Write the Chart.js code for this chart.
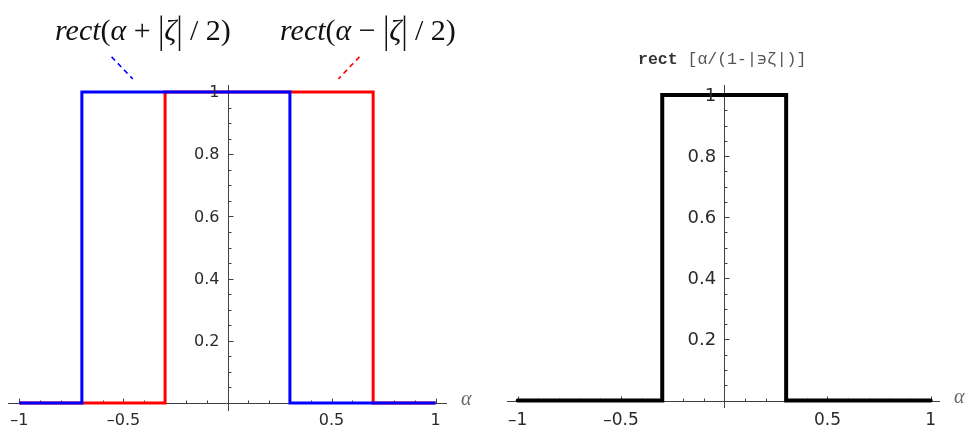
<!DOCTYPE html>
<html>
<head>
<meta charset="utf-8">
<script src="https://cdn.jsdelivr.net/npm/chart.js@4/dist/chart.umd.min.js"></script>
<style>
  html, body { margin: 0; padding: 0; background: #fff; }
  #wrap { position: relative; width: 966px; height: 428px; overflow: hidden; background: #fff; }
  canvas { position: absolute; top: 0; }
  #cLeft { left: 0; }
  #cRight { left: 483px; }
  .eq { position: absolute; font-family: "Liberation Serif", serif; font-size: 30px; color: #111; white-space: nowrap; line-height: 1; }
  .eq i { font-style: italic; }
  .eq .bar { display: inline-block; transform: scaleY(1.3); }
  .ttl { position: absolute; font-family: "Liberation Mono", monospace; font-size: 16.5px; color: #555; white-space: nowrap; line-height: 1; }
  .ttl b { color: #333; }
</style>
</head>
<body>
<div id="wrap">
  <canvas id="cLeft" width="483" height="428"></canvas>
  <canvas id="cRight" width="483" height="428"></canvas>
  <div class="eq" style="left:55px; top:15px;"><i>rect</i>(<i>α</i> + <span class="bar">|</span><i>ζ</i><span class="bar">|</span> / 2)</div>
  <div class="eq" style="left:280px; top:15px;"><i>rect</i>(<i>α</i> − <span class="bar">|</span><i>ζ</i><span class="bar">|</span> / 2)</div>
  <div class="ttl" style="left:638px; top:52px;"><b>rect</b> [α/(1-|϶ζ|)]</div>
</div>
<script>
// Shifted rectangle functions (left panel)
const blueAlpha = [-1, -0.7, -0.7, 0.3, 0.3, 1];
const blueValue = [0, 0, 1, 1, 0, 0];
const redAlpha  = [-1, -0.3, -0.3, 0.7, 0.7, 1];
const redValue  = [0, 0, 1, 1, 0, 0];

// Scaled rectangle function (right panel)
const blackAlpha = [-1, -0.3, -0.3, 0.3, 0.3, 1];
const blackValue = [0, 0, 1, 1, 0, 0];

// Axis ticks and their labels
const xTickValues = [-1, -0.5, 0.5, 1];
const xTickLabels = ['–1', '–0.5', '0.5', '1'];
const yTickValues = [0.2, 0.4, 0.6, 0.8, 1];
const yTickLabels = ['0.2', '0.4', '0.6', '0.8', '1'];

const toPoints = (xs, ys) => xs.map((v, i) => ({ x: v, y: ys[i] }));

// Axes through the origin with inward ticks, drawn from the chart's own scales
const crossAxes = {
  id: 'crossAxes',
  beforeDatasetsDraw(chart, args, o) {
    const { ctx, chartArea: a, scales: { x, y } } = chart;
    const x0 = Math.round(x.getPixelForValue(0)) + 0.5;
    const y0 = Math.round(y.getPixelForValue(0)) + 0.5;
    ctx.save();
    ctx.strokeStyle = '#404040';
    ctx.lineWidth = 1;
    ctx.beginPath();
    ctx.moveTo(a.left, y0); ctx.lineTo(a.right, y0);
    ctx.moveTo(x0, a.top); ctx.lineTo(x0, a.bottom);
    // x ticks: minor every 0.1, major at labelled values
    for (let k = -10; k <= 10; k++) {
      if (k === 0) continue;
      const v = k / 10;
      const major = xTickValues.some(t => Math.abs(t - v) < 1e-9);
      const px = Math.round(x.getPixelForValue(v)) + 0.5;
      ctx.moveTo(px, y0); ctx.lineTo(px, y0 - (major ? 5 : 3));
    }
    // y ticks: minor every 0.05, major at labelled values
    for (let k = 1; k <= 20; k++) {
      const v = k / 20;
      const major = yTickValues.some(t => Math.abs(t - v) < 1e-9);
      const py = Math.round(y.getPixelForValue(v)) + 0.5;
      ctx.moveTo(x0, py); ctx.lineTo(x0 + (major ? 5 : 3), py);
    }
    ctx.stroke();
    ctx.restore();
  },
  afterDatasetsDraw(chart, args, o) {
    const { ctx, chartArea: a, scales: { x, y } } = chart;
    const x0 = x.getPixelForValue(0);
    const y0 = y.getPixelForValue(0);
    ctx.save();
    ctx.fillStyle = '#2a2a2a';
    ctx.font = o.xFont + 'px "DejaVu Sans"';
    ctx.textAlign = 'center';
    ctx.textBaseline = 'top';
    xTickValues.forEach((v, i) => ctx.fillText(xTickLabels[i], x.getPixelForValue(v), y0 + o.xGap));
    ctx.font = o.yFont + 'px "DejaVu Sans"';
    ctx.textAlign = 'right';
    ctx.textBaseline = 'middle';
    yTickValues.forEach((v, i) => ctx.fillText(yTickLabels[i], x0 - 8, y.getPixelForValue(v) + 1));
    // axis name
    ctx.fillStyle = '#666';
    ctx.font = 'italic 20px "Liberation Serif"';
    ctx.textAlign = 'left';
    ctx.textBaseline = 'middle';
    ctx.fillText('α', a.right + 14, y0 - 3);
    // dashed leaders from the formula labels to their curves
    (o.leaders || []).forEach(l => {
      ctx.strokeStyle = l.color;
      ctx.lineWidth = 1.6;
      ctx.setLineDash([5, 4]);
      ctx.beginPath();
      ctx.moveTo(x.getPixelForValue(l.from[0]), y.getPixelForValue(l.from[1]));
      ctx.lineTo(x.getPixelForValue(l.to[0]), y.getPixelForValue(l.to[1]));
      ctx.stroke();
    });
    ctx.restore();
  }
};

function makeChart(id, datasets, range, padding, axisOpts) {
  return new Chart(document.getElementById(id), {
    type: 'scatter',
    data: { datasets },
    options: {
      responsive: false,
      animation: false,
      devicePixelRatio: 1,
      layout: { padding },
      plugins: { legend: { display: false }, tooltip: { enabled: false }, crossAxes: axisOpts },
      scales: {
        x: { type: 'linear', display: false, min: range.x[0], max: range.x[1] },
        y: { type: 'linear', display: false, min: range.y[0], max: range.y[1] }
      }
    },
    plugins: [crossAxes]
  });
}

const lineStyle = { showLine: true, pointRadius: 0, borderJoinStyle: 'miter', clip: false, fill: false };

// dataset order: lower 'order' is painted last, so blue sits on top of red
makeChart('cLeft', [
  { ...lineStyle, label: 'rect(α+|ζ|/2)', order: 0, data: toPoints(blueAlpha, blueValue), borderColor: '#0000ff', borderWidth: 3 },
  { ...lineStyle, label: 'rect(α−|ζ|/2)', order: 1, data: toPoints(redAlpha, redValue), borderColor: '#ff0000', borderWidth: 3 }
], { x: [-1.055, 1.055], y: [-0.0257, 1.0225] },
   { left: 8, right: 36, top: 85, bottom: 17 },
   { xFont: 16, yFont: 16, xGap: 10,
     leaders: [
       { color: '#0000ff', from: [-0.557, 1.113], to: [-0.455, 1.042] },
       { color: '#ff0000', from: [0.634, 1.113], to: [0.533, 1.042] }
     ] });

makeChart('cRight', [
  { ...lineStyle, label: 'rect[α/(1-|ζ|)]', data: toPoints(blackAlpha, blackValue), borderColor: '#000000', borderWidth: 4, borderCapStyle: 'round' }
], { x: [-1.0518, 1.045], y: [-0.0245, 1.0327] },
   { left: 24, right: 26, top: 85, bottom: 20 },
   { xFont: 17, yFont: 18, xGap: 12 });
</script>
</body>
</html>
